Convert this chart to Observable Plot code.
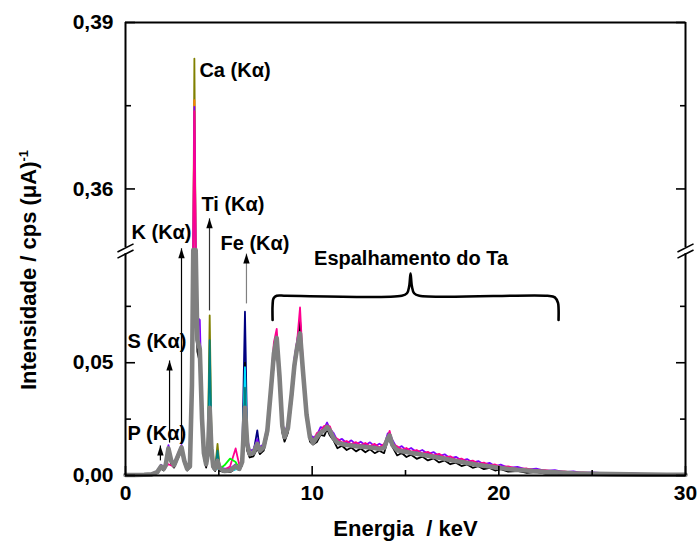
<!DOCTYPE html>
<html>
<head>
<meta charset="utf-8">
<script src="https://cdn.jsdelivr.net/npm/d3@7"></script>
<script src="https://cdn.jsdelivr.net/npm/@observablehq/plot@0.6"></script>
<style>
  html, body { margin: 0; padding: 0; background: #fff; }
  #chart { width: 700px; height: 546px; }
</style>
</head>
<body>
<div id="chart"></div>
<script>
// ---------- data ----------
const energy = [
  0,0.5,1,1.4,1.7,1.9,2.05,2.15,2.3,2.45,
  2.6,2.8,3,3.15,3.3,3.45,3.56,3.63,3.69,3.76,
  3.85,3.98,4.1,4.2,4.32,4.42,4.51,4.6,4.7,4.8,
  4.93,5.05,5.3,5.6,5.9,6.1,6.25,6.4,6.52,6.65,
  6.85,7.06,7.2,7.4,7.6,7.8,7.95,8.1,8.25,8.4,
  8.52,8.7,8.9,9.05,9.2,9.35,9.5,9.7,9.88,10.05,
  10.25,10.45,10.65,10.8,10.95,11.15,11.35,11.6,11.85,12.1,
  12.35,12.6,12.85,13.1,13.35,13.6,13.85,14.05,14.15,14.3,
  14.55,14.8,15.05,15.3,15.6,15.9,16.2,16.5,16.8,17.1,
  17.4,17.7,18,18.3,18.6,18.9,19.2,19.5,19.8,20.1,
  20.5,21,21.5,22,22.5,23,23.5,24,24.5,25,
  26,27,28,29,30
];
const graySpec = [
  0.0002,0.0002,0.0003,0.0005,0.0015,0.0040,0.0030,0.0045,0.0120,0.0065,
  0.0045,0.0085,0.0125,0.0065,0.0030,0.0040,0.0400,0.2000,0.3000,0.2200,
  0.0600,0.0560,0.0250,0.0100,0.0050,0.0100,0.0300,0.0120,0.0040,0.0030,
  0.0065,0.0030,0.0020,0.0022,0.0040,0.0030,0.0060,0.0300,0.0140,0.0095,
  0.0100,0.0140,0.0110,0.0125,0.0200,0.0390,0.0540,0.0610,0.0440,0.0220,
  0.0170,0.0210,0.0360,0.0490,0.0570,0.0630,0.0470,0.0270,0.0170,0.0145,
  0.0170,0.0190,0.0200,0.0215,0.0200,0.0165,0.0145,0.0140,0.0135,0.0133,
  0.0130,0.0128,0.0126,0.0124,0.0122,0.0118,0.0122,0.0165,0.0178,0.0135,
  0.0112,0.0108,0.0104,0.0100,0.0096,0.0092,0.0088,0.0083,0.0079,0.0074,
  0.0069,0.0064,0.0060,0.0055,0.0051,0.0047,0.0043,0.0040,0.0036,0.0033,
  0.0029,0.0025,0.0022,0.0019,0.0016,0.0014,0.0012,0.0010,0.0009,0.0008,
  0.0006,0.0005,0.0004,0.0003,0.0003
];
const purpleSpec = [
  0.0003,0.0003,0.0004,0.0007,0.0020,0.0048,0.0038,0.0055,0.0135,0.0075,
  0.0055,0.0095,0.0135,0.0075,0.0040,0.0050,0.0420,0.2200,0.3748,0.2500,
  0.0700,0.0690,0.0300,0.0120,0.0060,0.0150,0.0400,0.0160,0.0050,0.0040,
  0.0080,0.0040,0.0030,0.0030,0.0050,0.0040,0.0080,0.0350,0.0170,0.0110,
  0.0115,0.0160,0.0125,0.0140,0.0220,0.0410,0.0560,0.0620,0.0470,0.0240,
  0.0185,0.0230,0.0380,0.0520,0.0600,0.0680,0.0500,0.0290,0.0185,0.0167,
  0.0178,0.0214,0.0210,0.0235,0.0206,0.0188,0.0154,0.0162,0.0143,0.0156,
  0.0137,0.0150,0.0134,0.0147,0.0129,0.0141,0.0130,0.0187,0.0188,0.0158,
  0.0120,0.0130,0.0111,0.0122,0.0103,0.0113,0.0095,0.0104,0.0086,0.0094,
  0.0076,0.0083,0.0066,0.0073,0.0057,0.0064,0.0049,0.0056,0.0041,0.0048,
  0.0034,0.0038,0.0026,0.0030,0.0020,0.0024,0.0015,0.0018,0.0011,0.0014,
  0.0008,0.0010,0.0005,0.0007,0.0004
];
const blackSpec = [
  0.0001,0.0001,0.0002,0.0003,0.0010,0.0030,0.0022,0.0035,0.0100,0.0050,
  0.0035,0.0075,0.0110,0.0055,0.0022,0.0035,0.0380,0.1800,0.2800,0.2000,
  0.0550,0.0500,0.0200,0.0080,0.0035,0.0080,0.0250,0.0080,0.0030,0.0020,
  0.0050,0.0020,0.0015,0.0015,0.0030,0.0025,0.0045,0.0500,0.0110,0.0080,
  0.0085,0.0120,0.0095,0.0110,0.0180,0.0360,0.0500,0.0570,0.0400,0.0190,
  0.0150,0.0190,0.0330,0.0460,0.0560,0.0690,0.0450,0.0250,0.0150,0.0137,
  0.0148,0.0180,0.0176,0.0207,0.0177,0.0155,0.0121,0.0132,0.0113,0.0124,
  0.0107,0.0120,0.0103,0.0116,0.0099,0.0110,0.0099,0.0156,0.0155,0.0127,
  0.0089,0.0100,0.0082,0.0092,0.0074,0.0084,0.0067,0.0076,0.0058,0.0067,
  0.0050,0.0057,0.0042,0.0049,0.0034,0.0041,0.0028,0.0034,0.0022,0.0028,
  0.0017,0.0020,0.0012,0.0015,0.0008,0.0010,0.0005,0.0007,0.0003,0.0005,
  0.0002,0.0003,0.0001,0.0002,0.0001
];
const pinkSpec = [
  0.0002,0.0002,0.0003,0.0005,0.0018,0.0035,0.0028,0.0040,0.0050,0.0045,
  0.0040,0.0080,0.0120,0.0060,0.0030,0.0040,0.0420,0.2300,0.3740,0.2400,
  0.0600,0.0540,0.0250,0.0100,0.0045,0.0110,0.0320,0.0120,0.0040,0.0030,
  0.0060,0.0030,0.0025,0.0040,0.0120,0.0045,0.0070,0.0320,0.0150,0.0095,
  0.0100,0.0145,0.0110,0.0130,0.0210,0.0420,0.0590,0.0650,0.0460,0.0230,
  0.0175,0.0220,0.0370,0.0510,0.0600,0.0745,0.0500,0.0280,0.0175,0.0151,
  0.0188,0.0196,0.0220,0.0221,0.0218,0.0171,0.0163,0.0146,0.0153,0.0139,
  0.0148,0.0134,0.0144,0.0130,0.0140,0.0124,0.0140,0.0171,0.0198,0.0141,
  0.0130,0.0114,0.0122,0.0106,0.0113,0.0098,0.0105,0.0089,0.0096,0.0080,
  0.0085,0.0070,0.0075,0.0061,0.0066,0.0053,0.0057,0.0045,0.0049,0.0038,
  0.0040,0.0029,0.0031,0.0023,0.0024,0.0017,0.0018,0.0013,0.0014,0.0010,
  0.0010,0.0006,0.0007,0.0004,0.0005
];
// partial spectra (only where they differ visibly from the band)
const oliveE = [3.45,3.56,3.63,3.69,3.76,3.85,3.98,4.1,4.2,4.32,4.42,4.51,4.6,4.7,4.8,4.93,5.05];
const oliveV = [0.0040,0.0400,0.2000,0.3835,0.2200,0.0600,0.0550,0.0240,0.0100,0.0050,0.0180,0.0710,0.0200,0.0040,0.0030,0.0140,0.0030];
const orangeE = [3.45,3.56,3.63,3.69,3.76,3.85];
const orangeV = [0.0040,0.0400,0.2000,0.3760,0.2200,0.0600];
const navyE = [6.1,6.25,6.4,6.52,6.65,6.85,7.06,7.2,7.4];
const navyV = [0.0030,0.0080,0.0726,0.0160,0.0090,0.0100,0.0200,0.0110,0.0120];
const cyanE = [4.32,4.42,4.51,4.6,4.7,4.8,5.05,5.6,6.1,6.25,6.4,6.52,6.65];
const cyanV = [0.0050,0.0130,0.0450,0.0150,0.0040,0.0030,0.0030,0.0020,0.0030,0.0070,0.0480,0.0150,0.0090];
const tealE = [4.2,4.32,4.42,4.51,4.6,4.7,4.8,4.93,5.05,5.3,5.6,5.9,6.1,6.25,6.4,6.52,6.65];
const tealV = [0.0100,0.0050,0.0160,0.0600,0.0180,0.0040,0.0030,0.0110,0.0030,0.0020,0.0022,0.0040,0.0030,0.0060,0.0390,0.0150,0.0095];
const greenE = [5.05,5.3,5.6,5.9,6.1,6.25];
const greenV = [0.0030,0.0045,0.0075,0.0060,0.0030,0.0055];

// annotations
const labelText = ["Ca (Kα)", "Ti (Kα)", "K (Kα)", "Fe (Kα)", "S (Kα)", "P (Kα)"];
const labelE = [3.96, 4.07, 0.32, 5.09, 0.11, 0.11];
const labelV = [0.3814, 0.3572, 0.3522, 0.3502, 0.0594, 0.0186];
const scatterLabel = "Espalhamento do Ta";
const scatterE = 15.3, scatterV = 0.0962;
const arrowE = [1.87, 2.36, 3.0, 4.5, 6.48];
const arrowFrom = [0.0067, 0.0146, 0.0146, 0.0732, 0.0763];
const arrowTo = [0.0133, 0.0510, 0.3493, 0.3547, 0.0984];
const arrowColor = ["#000", "#000", "#000", "#333", "#808080"];
const braceE = [7.88,7.88,7.93,8.1,8.6,14.8,15.08,15.2,15.27,15.34,15.46,15.74,22.6,23.0,23.17,23.2,23.2];
const braceV = [0.0690,0.0755,0.0785,0.0797,0.0797,0.0797,0.0808,0.0840,0.0895,0.0840,0.0808,0.0797,0.0797,0.0790,0.0765,0.0740,0.0690];

// axes
const xMajor = [0, 10, 20, 30];
const xMinor = [5, 15, 25];
const yMajor = [0, 0.05, 0.36, 0.39];
const yMajorLabels = ["0,00", "0,05", "0,36", "0,39"];
const yMinor = [0.025, 0.075, 0.375];
const xTitle = "Energia  / keV";
const yTitle = "Intensidade / cps (μA)";

// ---------- broken y axis: 0–0.1 below, 0.349–0.39 above ----------
const LO = 0.1, HI = 0.349, K = 2.46;
const disp = v => v <= LO ? v : v >= HI ? LO + (v - HI) * K : LO;
const yTop = disp(0.39);

const seriesDefs = [
  {E: oliveE, V: oliveV, color: "#808000", w: 1.8},
  {E: orangeE, V: orangeV, color: "#ff8000", w: 1.8},
  {E: navyE, V: navyV, color: "#000080", w: 1.8},
  {E: energy, V: purpleSpec, color: "#8000ff", w: 1.8},
  {E: energy, V: blackSpec, color: "#000000", w: 1.8},
  {E: energy, V: pinkSpec, color: "#ff0090", w: 1.8},
  {E: cyanE, V: cyanV, color: "#00e0ff", w: 1.8},
  {E: tealE, V: tealV, color: "#008080", w: 1.8},
  {E: greenE, V: greenV, color: "#00ff00", w: 1.8},
  {E: energy, V: graySpec, color: "#808080", w: 4.6}
];
const lineMarks = seriesDefs.map(s =>
  Plot.line(s.E.map((e, i) => ({e, v: s.V[i]})), {
    x: "e", y: d => disp(d.v), stroke: s.color, strokeWidth: s.w, strokeLinejoin: "round"
  })
);

const labels = labelText.map((t, i) => ({t, e: labelE[i], v: labelV[i]}));
const arrows = arrowE.map((e, i) => ({e, a: arrowFrom[i], b: arrowTo[i], c: arrowColor[i]}));
const brace = braceE.map((e, i) => ({e, v: braceV[i]}));
const yLabelMap = new Map(yMajor.map((v, i) => [disp(v), yMajorLabels[i]]));

// break marks, in display units around the break
const gapLo = 0.0984, gapHi = 0.1011;
const breaks = [
  {x1: -0.43, x2: 0.43, y1: 0.0991, y2: 0.1027},
  {x1: -0.43, x2: 0.43, y1: 0.0964, y2: 0.1000},
  {x1: 29.57, x2: 30.43, y1: 0.0991, y2: 0.1027},
  {x1: 29.57, x2: 30.43, y1: 0.0964, y2: 0.1000}
];

const headShape = {
  draw(ctx) { ctx.moveTo(0, 0); ctx.lineTo(-3.2, 10); ctx.lineTo(3.2, 10); ctx.closePath(); }
};

const font = "'Liberation Sans', Arial, Helvetica, sans-serif";

const chart = Plot.plot({
  width: 700,
  height: 546,
  marginLeft: 125,
  marginRight: 15,
  marginTop: 22,
  marginBottom: 71,
  style: {fontFamily: font, background: "#fff", overflow: "visible"},
  x: {domain: [0, 30]},
  y: {domain: [0, yTop]},
  marks: [
    ...lineMarks,
    // frame with broken axes
    Plot.ruleX([0, 30], {y1: 0, y2: gapLo, stroke: "#000", strokeWidth: 2}),
    Plot.ruleX([0, 30], {y1: gapHi, y2: yTop, stroke: "#000", strokeWidth: 2}),
    Plot.ruleY([0, yTop], {x1: 0, x2: 30, stroke: "#000", strokeWidth: 2}),
    Plot.link(breaks, {x1: "x1", x2: "x2", y1: "y1", y2: "y2", stroke: "#000", strokeWidth: 1.6}),
    // axes
    Plot.axisX({ticks: xMajor, tickSize: -9, tickPadding: 19, fontSize: 21, fontWeight: "bold", strokeWidth: 1.6, label: null}),
    Plot.axisX({ticks: xMinor, tickSize: -5, tickFormat: () => "", strokeWidth: 1.6, label: null}),
    Plot.axisY({ticks: yMajor.map(disp), tickFormat: d => yLabelMap.get(d), tickSize: -10, tickPadding: 22, fontSize: 21, fontWeight: "bold", strokeWidth: 1.6, label: null}),
    Plot.axisY({ticks: yMinor.map(disp), tickSize: -6, tickFormat: () => "", strokeWidth: 1.6, label: null}),
    Plot.axisY({anchor: "right", ticks: yMajor.map(disp), tickSize: -10, tickFormat: () => "", strokeWidth: 1.6, label: null}),
    Plot.axisY({anchor: "right", ticks: yMinor.map(disp), tickSize: -6, tickFormat: () => "", strokeWidth: 1.6, label: null}),
    // arrows
    Plot.link(arrows, {x1: "e", x2: "e", y1: d => disp(d.a), y2: d => disp(d.b), stroke: "c", strokeWidth: 1.2}),
    Plot.dot(arrows, {x: "e", y: d => disp(d.b), symbol: headShape, fill: "#000", stroke: "none", r: 4}),
    // brace
    Plot.line(brace, {x: "e", y: "v", curve: "catmull-rom", stroke: "#000", strokeWidth: 2.6, strokeLinecap: "round"}),
    // labels
    Plot.text(labels, {x: "e", y: d => disp(d.v), text: "t", textAnchor: "start", fontSize: 20, fontWeight: "bold", fill: "#000"}),
    Plot.text([scatterLabel], {x: () => scatterE, y: () => scatterV, text: d => d, fontSize: 20, fontWeight: "bold", fill: "#000"}),
    // axis titles
    Plot.text([xTitle], {frameAnchor: "bottom", dy: 53, lineAnchor: "middle", textAnchor: "middle", text: d => d, fontSize: 22, fontWeight: "bold", fill: "#000"}),
    Plot.text([yTitle], {frameAnchor: "left", dx: -97, dy: 21, rotate: -90, textAnchor: "middle", lineAnchor: "middle", text: d => d, fontSize: 22, fontWeight: "bold", fill: "#000"})
  ]
});

// superscript "-1" on the y title
for (const t of chart.querySelectorAll("text")) {
  if (t.textContent === yTitle) {
    const ts = document.createElementNS("http://www.w3.org/2000/svg", "tspan");
    ts.setAttribute("dy", "-0.55em");
    ts.setAttribute("font-size", "13");
    ts.textContent = "-1";
    t.appendChild(ts);
  }
}
document.getElementById("chart").appendChild(chart);
</script>
</body>
</html>
